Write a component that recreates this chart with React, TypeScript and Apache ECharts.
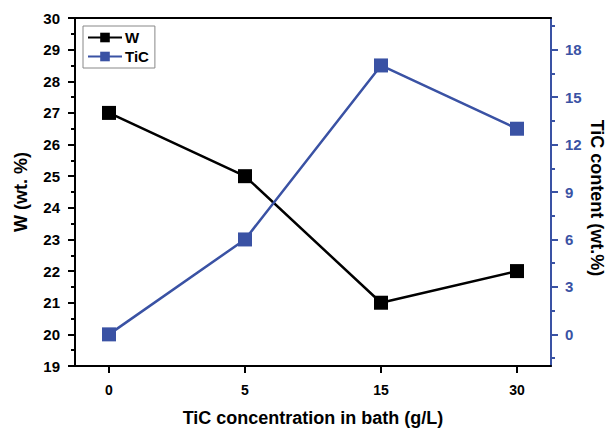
import React, { useEffect, useRef } from "react";
import * as echarts from "echarts";

const categories = ["0", "5", "15", "30"];
const wValues = [27, 25, 21, 22];
const ticValues = [0, 6, 17, 13];
const rightLabels = [0, 3, 6, 9, 12, 15, 18];
const rightMinor = [-1.5, 1.5, 4.5, 7.5, 10.5, 13.5, 16.5, 19.5];
const rightTitle = "TiC content (wt.%)";

const BLUE = "#3A52A4";
const FONT = "Liberation Sans, Arial, sans-serif";

export default function App() {
  const ref = useRef<HTMLDivElement>(null);
  useEffect(() => {
    document.body.style.margin = "0";
    document.documentElement.style.overflow = "hidden";
    const chart = echarts.init(ref.current!, null, { renderer: "svg" });
    const xIdx = categories.map((_, i) => i);
    chart.setOption({
      animation: false,
      backgroundColor: "#fff",
      grid: { left: 75, right: 62, top: 18, bottom: 71, outerBoundsMode: "none", containLabel: false },
      graphic: [
        {
          type: "text",
          x: 597,
          y: 198,
          rotation: -Math.PI / 2,
          style: {
            text: rightTitle,
            fill: "#000",
            font: `bold 18px ${FONT}`,
            align: "center",
            verticalAlign: "middle",
          },
        },
      ],
      legend: {
        orient: "vertical",
        left: 83,
        top: 26,
        padding: [4, 6, 4, 4],
        itemGap: 4,
        itemWidth: 34,
        itemHeight: 12,
        borderColor: "#888",
        borderWidth: 1,
        borderRadius: 0,
        textStyle: { fontFamily: FONT, fontWeight: "bold", fontSize: 15, color: "#000", padding: [0, 0, 0, -2] },
        data: ["W", "TiC"],
      },
      xAxis: [
        {
          type: "value",
          min: -0.25,
          max: 3.25,
          name: "TiC concentration in bath (g/L)",
          nameLocation: "middle",
          nameGap: 43,
          nameMoveOverlap: false,
          nameTextStyle: { fontFamily: FONT, fontWeight: "bold", fontSize: 18, color: "#000" },
          splitLine: { show: false },
          axisLine: { onZero: false, lineStyle: { color: "#000", width: 2 } },
          axisTick: { customValues: xIdx, length: 7, lineStyle: { color: "#000", width: 2 } },
          axisLabel: {
            customValues: xIdx,
            formatter: (v: number) => categories[Math.round(v)],
            fontFamily: FONT,
            fontWeight: "bold",
            fontSize: 14,
            color: "#000",
            margin: 17,
          },
        },
        {
          type: "value",
          position: "top",
          min: -0.25,
          max: 3.25,
          splitLine: { show: false },
          axisLine: { onZero: false, lineStyle: { color: "#000", width: 2 } },
          axisTick: { show: false },
          axisLabel: { show: false },
        },
      ],
      yAxis: [
        {
          type: "value",
          min: 19,
          max: 30,
          interval: 1,
          name: "W (wt. %)",
          nameLocation: "middle",
          nameGap: 45,
          nameTextStyle: { fontFamily: FONT, fontWeight: "bold", fontSize: 18, color: "#000" },
          splitLine: { show: false },
          axisLine: { onZero: false, lineStyle: { color: "#000", width: 2 } },
          axisTick: { length: 7, lineStyle: { color: "#000", width: 2 } },
          minorTick: { show: true, splitNumber: 2, length: 4, lineStyle: { color: "#000", width: 2 } },
          axisLabel: { fontFamily: FONT, fontWeight: "bold", fontSize: 15, color: "#000", margin: 15 },
        },
        {
          type: "value",
          position: "right",
          min: -2,
          max: 20,
          splitLine: { show: false },
          axisLine: { onZero: false, lineStyle: { color: BLUE, width: 2 } },
          axisTick: { customValues: rightLabels, length: 7, lineStyle: { color: BLUE, width: 2 } },
          axisLabel: {
            customValues: rightLabels,
            fontFamily: FONT,
            fontWeight: "bold",
            fontSize: 15,
            color: BLUE,
            margin: 14,
          },
        },
        {
          type: "value",
          position: "right",
          min: -2,
          max: 20,
          splitLine: { show: false },
          axisLine: { show: false, onZero: false },
          axisTick: { customValues: rightMinor, length: 4, lineStyle: { color: BLUE, width: 2 } },
          axisLabel: { show: false },
        },
      ],
      series: [
        {
          name: "W",
          type: "line",
          yAxisIndex: 0,
          data: wValues.map((v, i) => [i, v]),
          symbol: "rect",
          symbolSize: 14,
          lineStyle: { color: "#000", width: 2.5 },
          itemStyle: { color: "#000" },
        },
        {
          name: "TiC",
          type: "line",
          yAxisIndex: 1,
          data: ticValues.map((v, i) => [i, v]),
          symbol: "rect",
          symbolSize: 14,
          lineStyle: { color: BLUE, width: 2.5 },
          itemStyle: { color: BLUE },
        },
      ],
    });
    return () => chart.dispose();
  }, []);
  return <div ref={ref} style={{ width: 613, height: 437 }} />;
}
